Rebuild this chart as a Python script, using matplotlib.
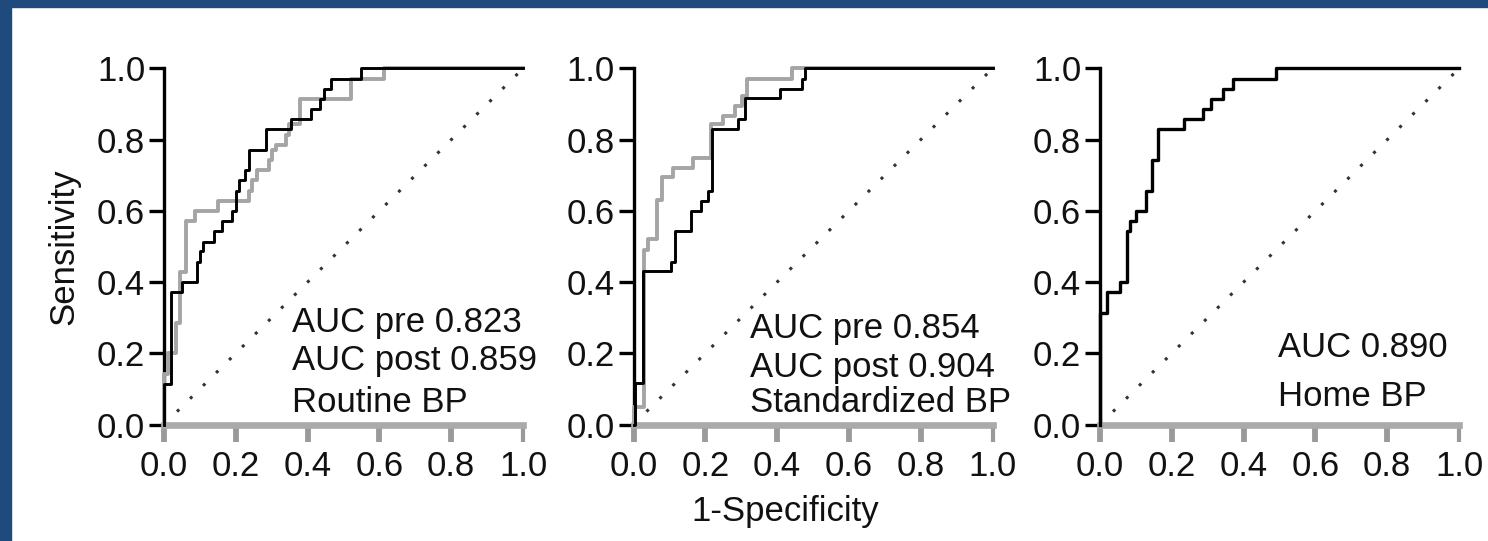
import matplotlib
matplotlib.use('Agg')
import matplotlib.pyplot as plt
from matplotlib.patches import Rectangle

plt.rcParams['font.family'] = ['Liberation Sans', 'DejaVu Sans']

# ROC corner points (1-specificity, sensitivity)
routine_black_fpr = [0, 0, 0.02, 0.02, 0.05, 0.05, 0.092, 0.092, 0.10, 0.10, 0.11, 0.11, 0.138, 0.138,
                     0.162, 0.162, 0.19, 0.19, 0.20, 0.20, 0.21, 0.21, 0.225, 0.225, 0.236, 0.236,
                     0.283, 0.283, 0.355, 0.355, 0.41, 0.41, 0.435, 0.435, 0.445, 0.445, 0.465, 0.465,
                     0.55, 0.55, 1.0]
routine_black_tpr = [0, 0.114, 0.114, 0.371, 0.371, 0.40, 0.40, 0.457, 0.457, 0.486, 0.486, 0.514, 0.514, 0.543,
                     0.543, 0.571, 0.571, 0.60, 0.60, 0.657, 0.657, 0.686, 0.686, 0.714, 0.714, 0.771,
                     0.771, 0.829, 0.829, 0.857, 0.857, 0.886, 0.886, 0.914, 0.914, 0.943, 0.943, 0.971,
                     0.971, 1.0, 1.0]
routine_gray_fpr = [0, 0, 0.01, 0.01, 0.034, 0.034, 0.045, 0.045, 0.062, 0.062, 0.087, 0.087, 0.15, 0.15,
                    0.236, 0.236, 0.245, 0.245, 0.258, 0.258, 0.292, 0.292, 0.30, 0.30, 0.311, 0.311,
                    0.339, 0.339, 0.348, 0.348, 0.38, 0.38, 0.52, 0.52, 0.614, 0.614, 1.0]
routine_gray_tpr = [0, 0.143, 0.143, 0.20, 0.20, 0.286, 0.286, 0.429, 0.429, 0.571, 0.571, 0.60, 0.60, 0.629,
                    0.629, 0.657, 0.657, 0.686, 0.686, 0.714, 0.714, 0.743, 0.743, 0.771, 0.771, 0.786,
                    0.786, 0.814, 0.814, 0.843, 0.843, 0.914, 0.914, 0.971, 0.971, 1.0, 1.0]

std_black_fpr = [0, 0.005, 0.005, 0.026, 0.026, 0.105, 0.105, 0.115, 0.115, 0.16, 0.16, 0.187, 0.187,
                 0.207, 0.207, 0.218, 0.218, 0.292, 0.292, 0.311, 0.311, 0.407, 0.407, 0.47, 0.47,
                 0.479, 0.479, 1.0]
std_black_tpr = [0, 0, 0.117, 0.117, 0.43, 0.43, 0.457, 0.457, 0.543, 0.543, 0.60, 0.60, 0.628,
                 0.628, 0.657, 0.657, 0.83, 0.83, 0.858, 0.858, 0.916, 0.916, 0.943, 0.943, 0.971,
                 0.971, 1.0, 1.0]
std_gray_fpr = [0, 0, 0.03, 0.03, 0.04, 0.04, 0.065, 0.065, 0.08, 0.08, 0.109, 0.109, 0.166, 0.166,
                0.215, 0.215, 0.25, 0.25, 0.283, 0.283, 0.302, 0.302, 0.316, 0.316, 0.442, 0.442, 1.0]
std_gray_tpr = [0, 0.05, 0.05, 0.49, 0.49, 0.52, 0.52, 0.63, 0.63, 0.694, 0.694, 0.72, 0.72, 0.748,
                0.748, 0.843, 0.843, 0.867, 0.867, 0.895, 0.895, 0.923, 0.923, 0.971, 0.971, 1.0, 1.0]

home_fpr = [0, 0, 0.019, 0.019, 0.056, 0.056, 0.075, 0.075, 0.084, 0.084, 0.10, 0.10, 0.128, 0.128,
            0.145, 0.145, 0.162, 0.162, 0.235, 0.235, 0.288, 0.288, 0.308, 0.308, 0.343, 0.343,
            0.37, 0.37, 0.49, 0.49, 1.0]
home_tpr = [0, 0.314, 0.314, 0.371, 0.371, 0.40, 0.40, 0.543, 0.543, 0.571, 0.571, 0.60, 0.60, 0.657,
            0.657, 0.743, 0.743, 0.829, 0.829, 0.857, 0.857, 0.886, 0.886, 0.914, 0.914, 0.943,
            0.943, 0.971, 0.971, 1.0, 1.0]

tick_vals = [0.0, 0.2, 0.4, 0.6, 0.8, 1.0]
tick_labels = ['0.0', '0.2', '0.4', '0.6', '0.8', '1.0']

routine_text = ['AUC pre 0.823', 'AUC post 0.859', 'Routine BP']
std_text = ['AUC pre 0.854', 'AUC post 0.904', 'Standardized BP']
home_text = ['AUC 0.890', 'Home BP']

W, H = 1488, 541
fig = plt.figure(figsize=(W / 100, H / 100), dpi=100)

# dark blue frame on the left and top
fig.patches.append(Rectangle((0, 0), 11 / W, 1, transform=fig.transFigure, color='#1f4a7e', zorder=0))
fig.patches.append(Rectangle((0, 1 - 7 / H), 1, 7 / H, transform=fig.transFigure, color='#1f4a7e', zorder=0))

ax_w, ax_h = 359 / W, 356 / H
ax_b = (H - 424.5) / H
lefts = [164 / W, 633.5 / W, 1100 / W]

TXT = '#111111'
GRAY = '#a5a5a5'


def make_axes(left):
    ax = fig.add_axes([left, ax_b, ax_w, ax_h])
    ax.set_xlim(0, 1)
    ax.set_ylim(0, 1)
    ax.spines['top'].set_visible(False)
    ax.spines['right'].set_visible(False)
    ax.spines['left'].set_linewidth(2.4)
    ax.spines['bottom'].set_linewidth(4.8)
    ax.spines['bottom'].set_color('#aaaaaa')
    ax.set_xticks(tick_vals)
    ax.set_xticklabels(tick_labels)
    ax.set_yticks(tick_vals)
    ax.set_yticklabels(tick_labels)
    ax.tick_params(axis='y', length=10.5, width=2.4, pad=3, labelsize=25, labelcolor=TXT)
    ax.tick_params(axis='x', length=12, width=4.2, color='#9a9a9a', pad=6, labelsize=25, labelcolor=TXT)
    last = ax.xaxis.get_major_ticks()[-1]
    last.tick1line.set_color('black')
    last.tick1line.set_markeredgewidth(3)
    ax.patch.set_visible(False)
    # chance line
    ax.plot([0, 1], [0, 1], color='#333333', lw=2.2, linestyle=(0, (1, 5)), zorder=2, clip_on=False)
    return ax


def add_text(ax, x, ys, lines):
    for y, s in zip(ys, lines):
        ax.text(x, y, s, transform=ax.transAxes, fontsize=25, color=TXT, va='baseline', ha='left')


ax1 = make_axes(lefts[0])
ax1.plot(routine_gray_fpr, routine_gray_tpr, color=GRAY, lw=2.8, zorder=3, clip_on=False)
ax1.plot(routine_black_fpr, routine_black_tpr, color='black', lw=2.1, zorder=4, clip_on=False)
add_text(ax1, 0.357, [0.26, 0.153, 0.034], routine_text)

ax2 = make_axes(lefts[1])
ax2.plot(std_gray_fpr, std_gray_tpr, color=GRAY, lw=2.8, zorder=3, clip_on=False)
ax2.plot(std_black_fpr, std_black_tpr, color='black', lw=2.1, zorder=4, clip_on=False)
add_text(ax2, 0.324, [0.243, 0.133, 0.034], std_text)

ax3 = make_axes(lefts[2])
ax3.plot(home_fpr, home_tpr, color='black', lw=2.4, zorder=4, clip_on=False)
add_text(ax3, 0.496, [0.19, 0.053], home_text)

fig.text(64 / W, (H - 247) / H, 'Sensitivity', rotation=90, fontsize=25, color=TXT,
         ha='center', va='center')
fig.text(785 / W, (H - 512) / H, '1-Specificity', fontsize=25, color=TXT, ha='center', va='center')

fig.savefig('out.png', dpi=100, facecolor='white')
